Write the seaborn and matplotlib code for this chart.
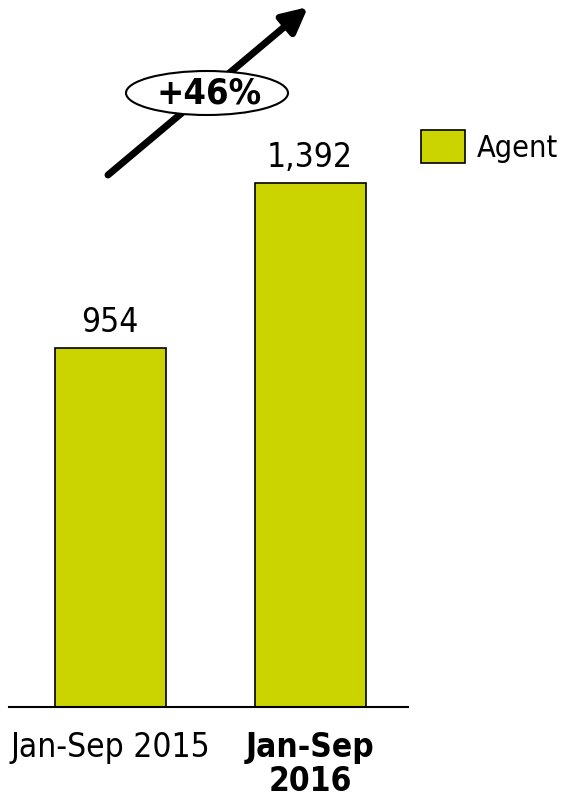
import matplotlib
matplotlib.use("Agg")
import matplotlib.pyplot as plt
from matplotlib.patches import Ellipse
import seaborn as sns
import pandas as pd

periods = ["Jan-Sep 2015", "Jan-Sep\n2016"]
counts = [954, 1392]
series_name = "Agent"
growth_label = "+46%"

bar_color = "#CCD400"

sns.set_theme(style="white")
plt.rcParams["font.family"] = ["DejaVu Sans"]
plt.rcParams["font.stretch"] = "condensed"
plt.rcParams["text.color"] = "black"

df = pd.DataFrame({"period": periods, "count": counts, "series": series_name})

W, H = 563, 799
FS = 24
fig = plt.figure(figsize=(W / 100, H / 100), dpi=100)
ax = fig.add_axes([9 / W, 1 - 707 / H, (408 - 9) / W, 707 / H])

sns.barplot(data=df, x="period", y="count", hue="series", palette=[bar_color],
            edgecolor="black", linewidth=1.2, width=0.555, dodge=False,
            saturation=1, ax=ax)

ax.set_xlim(-0.505, 1.49)
ax.set_ylim(0, 707 / 0.3766)
ax.set_xlabel("")
ax.set_ylabel("")
ax.set_yticks([])
for side in ["top", "left", "right"]:
    ax.spines[side].set_visible(False)
ax.spines["bottom"].set_color("black")
ax.spines["bottom"].set_linewidth(1.5)
ax.tick_params(axis="x", length=0, pad=17, labelsize=FS, colors="black")
ticklabels = ax.get_xticklabels()
ticklabels[1].set_fontweight("bold")
for t in ticklabels:
    t.set_verticalalignment("top")
    t.set_linespacing(1.05)

ax.bar_label(ax.containers[0], labels=[f"{v:,}" for v in counts],
             padding=6, fontsize=FS, color="black")

handles, labels = ax.get_legend_handles_labels()
if ax.legend_:
    ax.legend_.remove()
leg = fig.legend(handles, labels, loc="upper left",
                 bbox_to_anchor=(421 / W, 1 - 130 / H), frameon=False,
                 fontsize=22, handlelength=1.45, handleheight=1.3,
                 handletextpad=0.36, borderpad=0, borderaxespad=0)
for t in leg.get_texts():
    t.set_color("black")

# growth arrow with the percentage badge
ax.annotate("", xy=(308, H - 7), xytext=(108, H - 175),
            xycoords="figure pixels", textcoords="figure pixels",
            arrowprops=dict(arrowstyle="-|>", lw=5, color="black",
                            mutation_scale=38, shrinkA=0, shrinkB=0))
badge = Ellipse((207 / W, 1 - 93 / H), 162 / W, 44 / H, transform=fig.transFigure,
                facecolor="white", edgecolor="black", lw=1.5, zorder=5, clip_on=False)
ax.add_patch(badge)
ax.text(209 / W, 1 - 93 / H, growth_label, transform=fig.transFigure,
        ha="center", va="center", fontsize=26, fontweight="bold",
        color="black", zorder=6)

fig.savefig("out.png", dpi=100)
